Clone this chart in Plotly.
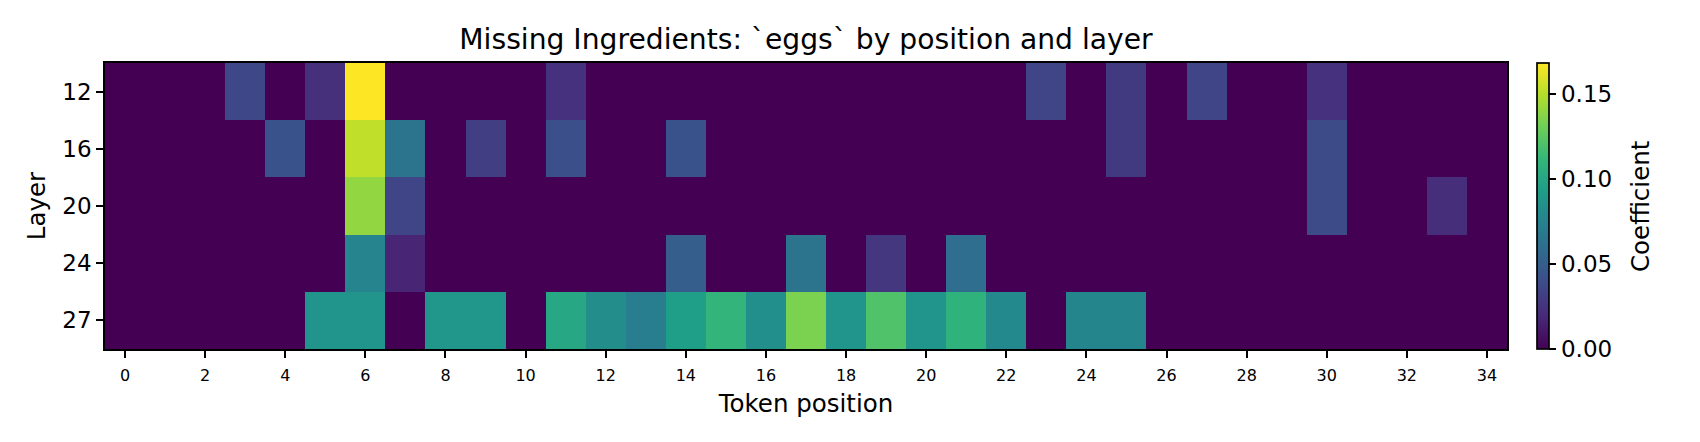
import plotly.graph_objects as go

positions = list(range(35))
layers = ["12", "16", "20", "24", "27"]

layer12 = [0, 0, 0, 0.037, 0, 0.023, 0.168, 0, 0, 0,
           0, 0.024, 0, 0, 0, 0, 0, 0, 0, 0,
           0, 0, 0, 0.035, 0, 0.029, 0, 0.035, 0, 0,
           0.024, 0, 0, 0, 0]
layer16 = [0, 0, 0, 0, 0.043, 0, 0.152, 0.064, 0, 0.031,
           0, 0.041, 0, 0, 0.043, 0, 0, 0, 0, 0,
           0, 0, 0, 0, 0, 0.029, 0, 0, 0, 0,
           0.039, 0, 0, 0, 0]
layer20 = [0, 0, 0, 0, 0, 0, 0.140, 0.035, 0, 0,
           0, 0, 0, 0, 0, 0, 0, 0, 0, 0,
           0, 0, 0, 0, 0, 0, 0, 0, 0, 0,
           0.039, 0, 0, 0.022, 0]
layer24 = [0, 0, 0, 0, 0, 0, 0.076, 0.017, 0, 0,
           0, 0, 0, 0, 0.050, 0, 0, 0.064, 0, 0.027,
           0, 0.060, 0, 0, 0, 0, 0, 0, 0, 0,
           0, 0, 0, 0, 0]
layer27 = [0, 0, 0, 0, 0, 0.087, 0.087, 0, 0.088, 0.088,
           0, 0.100, 0.082, 0.072, 0.094, 0.110, 0.083, 0.134, 0.087, 0.121,
           0.087, 0.108, 0.079, 0, 0.077, 0.077, 0, 0, 0, 0,
           0, 0, 0, 0, 0]

z = [layer12, layer16, layer20, layer24, layer27]
zmax = max(max(r) for r in z)

FONT = "DejaVu Sans"
PLOT_L, PLOT_R = 105, 1507
PLOT_W = PLOT_R - PLOT_L

fig = go.Figure(go.Heatmap(
    z=z, x=positions, y=layers,
    colorscale="Viridis", zmin=0, zmax=zmax,
    colorbar=dict(
        x=(1537 - PLOT_L) / PLOT_W, xanchor="left", xpad=0,
        y=0.5, yanchor="middle", len=1, lenmode="fraction", ypad=0,
        thickness=12, outlinewidth=1.7, outlinecolor="black",
        tickmode="array", tickvals=[0, 0.05, 0.10, 0.15],
        ticktext=["0.00", "0.05", "0.10", "0.15"],
        ticks="outside", ticklen=7, tickwidth=1.7, tickcolor="black",
        tickfont=dict(family=FONT, size=23, color="black"),
    ),
))

fig.add_annotation(
    text="Coefficient", xref="paper", yref="paper",
    x=(1640 - PLOT_L) / PLOT_W, y=0.5, xanchor="center", yanchor="middle",
    textangle=-90, showarrow=False,
    font=dict(family=FONT, size=24.5, color="black"),
)

fig.update_layout(
    width=1700, height=442,
    margin=dict(l=PLOT_L, r=1700 - PLOT_R, t=63, b=93),
    paper_bgcolor="white", plot_bgcolor="white",
    font=dict(family=FONT, color="black"),
    title=dict(text="Missing Ingredients: `eggs` by position and layer",
               x=(PLOT_L + PLOT_R) / 2 / 1700, xanchor="center",
               y=1 - 39 / 442, yanchor="middle",
               font=dict(family=FONT, size=28.2, color="black")),
    xaxis=dict(
        range=[-0.5, 34.5], tickmode="linear", tick0=0, dtick=2,
        ticks="outside", ticklen=7, tickwidth=1.7, tickcolor="black",
        ticklabelstandoff=4,
        tickfont=dict(family=FONT, size=16, color="black"),
        showline=True, linecolor="black", linewidth=1.7, mirror=True,
        showgrid=False, zeroline=False,
        title=dict(text="Token position", standoff=11,
                   font=dict(family=FONT, size=24.5, color="black")),
    ),
    yaxis=dict(
        type="category", autorange="reversed",
        ticks="outside", ticklen=7, tickwidth=1.7, tickcolor="black",
        tickfont=dict(family=FONT, size=23, color="black"),
        showline=True, linecolor="black", linewidth=1.7, mirror=True,
        showgrid=False, zeroline=False,
        title=dict(text="Layer", standoff=10,
                   font=dict(family=FONT, size=24.5, color="black")),
    ),
)

fig.write_html("out.html")
